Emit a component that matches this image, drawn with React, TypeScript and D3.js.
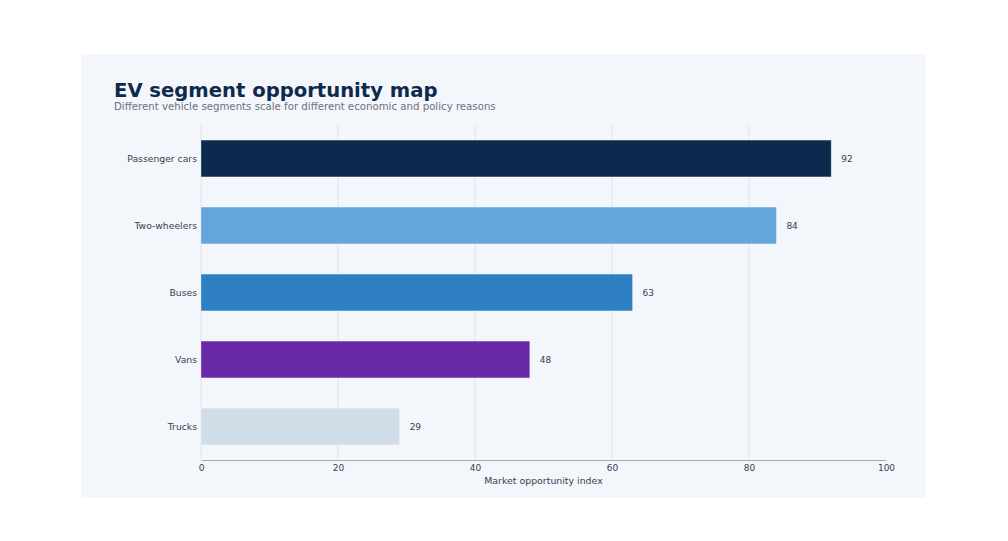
import React, { useEffect, useRef } from "react";
import * as d3 from "d3";

const segments = ["Passenger cars", "Two-wheelers", "Buses", "Vans", "Trucks"];
const scores = [92, 84, 63, 48, 29];
const barColors = ["#0d2a4e", "#63a6dc", "#2f80c2", "#6a2aa8", "#d0dde9"];
const xTicks = [0, 20, 40, 60, 80, 100];
const gridTicks = [0, 20, 40, 60, 80];

const App: React.FC = () => {
  const svgRef = useRef<SVGSVGElement | null>(null);

  useEffect(() => {
    if (!svgRef.current) return;
    const width = 1008;
    const height = 541;
    const plot = { left: 201, right: 886, top: 125, bottom: 460 };
    const font = "DejaVu Sans, sans-serif";

    const svg = d3.select(svgRef.current);
    svg.selectAll("*").remove();
    svg.attr("width", width).attr("height", height);

    svg.append("rect").attr("width", width).attr("height", height).attr("fill", "#ffffff");
    // panel
    svg.append("rect")
      .attr("x", 81).attr("y", 54).attr("width", 845).attr("height", 444)
      .attr("fill", "#f3f6fb");

    svg.append("text")
      .attr("x", 114).attr("y", 97)
      .attr("font-family", font).attr("font-size", 19.6).attr("font-weight", "bold")
      .attr("fill", "#0d2a4e")
      .text("EV segment opportunity map");
    svg.append("text")
      .attr("x", 114).attr("y", 109.5)
      .attr("font-family", font).attr("font-size", 10.2)
      .attr("fill", "#6b7280")
      .text("Different vehicle segments scale for different economic and policy reasons");

    const x = d3.scaleLinear().domain([0, 100]).range([plot.left, plot.right]);
    const y = d3.scaleBand().domain(segments).range([plot.top, plot.bottom])
      .paddingInner(0.45).paddingOuter(0.225);

    const rows = segments.map((s, i) => ({ name: s, value: scores[i], color: barColors[i] }));

    // gridlines
    svg.append("g")
      .selectAll("line")
      .data(gridTicks)
      .enter()
      .append("line")
      .attr("x1", d => x(d)).attr("x2", d => x(d))
      .attr("y1", plot.top).attr("y2", plot.bottom)
      .attr("stroke", "#e0e4ea").attr("stroke-width", 1);

    svg.append("g")
      .selectAll("rect")
      .data(rows)
      .enter()
      .append("rect")
      .attr("x", x(0))
      .attr("y", d => y(d.name)!)
      .attr("width", d => x(d.value) - x(0))
      .attr("height", y.bandwidth())
      .attr("fill", d => d.color)
      .attr("stroke", "#ffffff").attr("stroke-opacity", 0.4).attr("stroke-width", 0.8);

    svg.append("g")
      .selectAll("text")
      .data(rows)
      .enter()
      .append("text")
      .attr("x", d => x(d.value) + 10)
      .attr("y", d => y(d.name)! + y.bandwidth() / 2)
      .attr("dy", "0.35em")
      .attr("font-family", font).attr("font-size", 9)
      .attr("fill", "#374151")
      .text(d => d.value);

    // y labels
    svg.append("g")
      .selectAll("text")
      .data(segments)
      .enter()
      .append("text")
      .attr("x", plot.left - 4)
      .attr("y", d => y(d)! + y.bandwidth() / 2)
      .attr("dy", "0.35em")
      .attr("text-anchor", "end")
      .attr("font-family", font).attr("font-size", 9.25)
      .attr("fill", "#374151")
      .text(d => d);

    // x axis
    const xAxis = svg.append("g")
      .attr("transform", `translate(0,${plot.bottom})`)
      .call(d3.axisBottom(x).tickValues(xTicks).tickSize(0).tickPadding(5));
    xAxis.select(".domain").attr("stroke", "#a3aab5").attr("stroke-width", 1);
    xAxis.selectAll("text")
      .attr("font-family", font).attr("font-size", 9).attr("fill", "#374151");

    svg.append("text")
      .attr("x", (plot.left + plot.right) / 2).attr("y", 484)
      .attr("text-anchor", "middle")
      .attr("font-family", font).attr("font-size", 9.4)
      .attr("fill", "#374151")
      .text("Market opportunity index");
  }, []);

  return (
    <div style={{ position: "absolute", left: 0, top: 0 }}>
      <svg ref={svgRef} style={{ display: "block" }}></svg>
    </div>
  );
};

export default App;
